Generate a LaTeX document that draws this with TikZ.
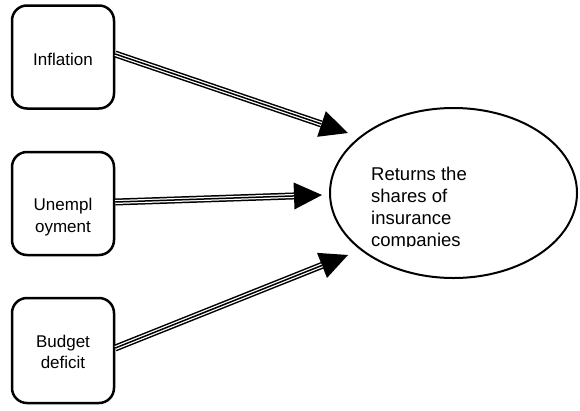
\documentclass[tikz,border=0pt]{standalone}
\usepackage{fontspec}
\setmainfont{Liberation Sans}
\usetikzlibrary{shapes.geometric,arrows.meta,calc}
\begin{document}
\begin{tikzpicture}[x=1pt,y=-1pt,
  box/.style={draw=black,line width=2.5pt,rounded corners=15pt,minimum width=102pt,minimum height=103pt,inner sep=0pt,fill=white},
  lbl/.style={align=center,inner sep=0pt,anchor=north,font=\fontsize{17}{22}\selectfont},
  oval/.style={draw=black,line width=2pt,ellipse,minimum width=247pt,minimum height=170pt,inner sep=0pt},
  tri/.style={line width=7pt,-{Triangle[length=28pt,width=27pt,line width=0pt]},
    postaction={draw=white,line width=4pt,-,shorten >=28pt},
    postaction={draw=black,line width=1.5pt,-,shorten >=28pt}}]
\fill[white] (0,0) rectangle (580,410);
\useasboundingbox (0,0) rectangle (580,410);
% boxes
\node[box] (b1) at (63,57) {};
\node[box] (b2) at (63,203.5) {};
\node[box,minimum height=105pt] (b3) at (63,350.5) {};
\node[lbl] (t1) at (63,52.8) {Inflation};
\node[lbl] (t2) at (63,197.8) {Unempl\\oyment};
\node[lbl,font=\fontsize{17}{21}\selectfont] (t3) at (63,334.8) {Budget\\deficit};
% ellipse
\node[oval] (e) at (453.5,193) {};
\begin{scope}
\clip (360,150) rectangle (490,246.5);
\node[inner sep=0pt,anchor=north west,align=left,font=\fontsize{18.5}{22}\selectfont] (et) at (371,166.8) {Returns the\\shares of\\insurance\\companies};
\end{scope}
% arrow tips
\coordinate (p1) at (348,133);
\coordinate (p2) at (322,195);
\coordinate (p3) at (348,255);
\draw[tri] ([yshift=3pt]b1.east) -- (p1);
\draw[tri] ([yshift=1.5pt]b2.east) -- (p2);
\draw[tri] ([yshift=2.5pt]b3.east) -- (p3);
\end{tikzpicture}
\end{document}
